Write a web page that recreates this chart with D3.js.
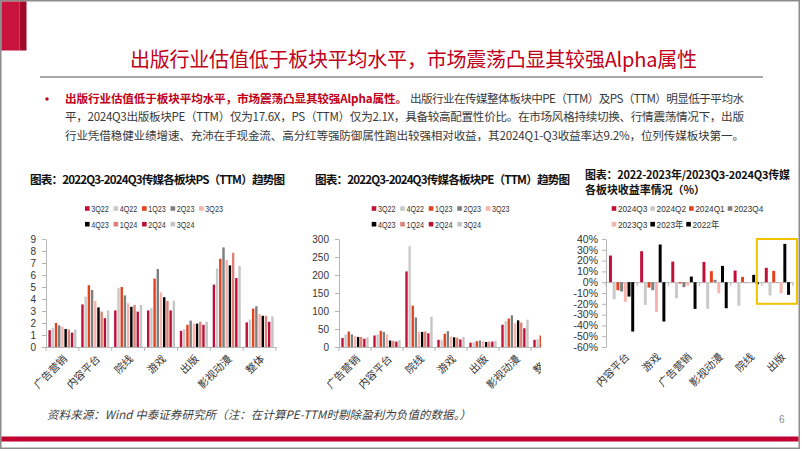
<!DOCTYPE html>
<html><head><meta charset="utf-8">
<script src="https://cdn.jsdelivr.net/npm/d3@7"></script>
<style>
html,body{margin:0;padding:0;background:#fff;}
svg{display:block;}
</style></head><body>
<svg id="c" width="802" height="451"></svg>
<script>
// ---------------- DATA ----------------
const sectorsA = ["广告营销","内容平台","院线","游戏","出版","影视动漫","整体"];
const quarters = ["3Q22","4Q22","1Q23","2Q23","3Q23","4Q23","1Q24","2Q24","3Q24"];
const psTicks = [0,1,2,3,4,5,6,7,8,9];
const peTicks = [0,50,100,150,200,250,300];

// PS (TTM) per sector, in quarter order
const psAdMarketing = [1.4,1.6,2.0,1.8,1.7,1.5,1.45,1.2,1.45];
const psContent     = [3.55,4.2,5.15,4.75,3.85,3.3,2.95,2.4,3.05];
const psCinema      = [3.05,4.9,5.0,4.3,3.65,3.35,3.5,2.95,3.5];
const psGames       = [3.05,3.25,5.7,6.5,4.55,4.15,3.85,3.05,3.85];
const psPublishing  = [1.35,1.5,1.85,2.2,1.95,1.95,2.1,1.85,2.1];
const psFilmAnim    = [5.2,6.55,7.35,8.3,7.25,6.8,7.85,5.75,6.75];
const psOverall     = [2.05,2.3,3.2,3.4,2.75,2.6,2.6,2.1,2.55];

// PE (TTM) per sector, in quarter order
const peAdMarketing = [25,35,43,35,30,28,28,23,27];
const peContent     = [32,35,45,42,35,18,17,15,19];
const peCinema      = [210,280,115,82,42,42,43,38,84];
const peGames       = [20,20,37,44,29,27,26,21,28];
const pePublishing  = [12,13,16,18,16,14,15,15,17];
const peFilmAnim    = [62,72,79,88,66,74,68,52,76];
const peOverall     = [20,22,32,35,28,26,25,20,27];

// Returns (%)
const sectorsB = ["内容平台","游戏","广告营销","影视动漫","院线","出版"];
const periods = ["2024Q3","2024Q2","2024Q1","2023Q4","2023Q3","2023年","2022年"];
const retTicks = [40,30,20,10,0,-10,-20,-30,-40,-50,-60];
const retContent    = [24.7,-15.7,-7.4,-8.6,-18.2,-13.3,-45.7];
const retGames      = [28.7,-21,-5,-7.4,-27.5,34.9,-36.4];
const retAdMarketing= [19.1,-14.8,-1.2,-4.6,-3.1,5.2,-24.7];
const retFilmAnim   = [18.8,-24.7,10.2,2.2,-10.2,15.1,-24.1];
const retCinema     = [10.8,-21.9,4.9,-0.4,-0.3,6.8,-1.9];
const retPublishing = [13.3,-12.3,10.5,-0.3,-10.2,35.5,-11.7];

// ---------------- STYLE ----------------
const quarterColors = ["#C0103A","#C9C9C9","#E2421E","#7F7F7F","#F5B5AC","#000000","#DE8279","#B8123A","#C4C4C4"];
const periodColors  = ["#C0103A","#C9C9C9","#E2421E","#7F7F7F","#F5B5AC","#000000","#000000"];
const fontLatin = '"Liberation Sans","Noto Sans CJK SC",sans-serif';
const fontCJK = '"Noto Sans CJK SC","Noto Sans",sans-serif';

const svg = d3.select("#c");

function addText(parent, x, y, str, o) {
  const t = parent.append("text").attr("x", x).attr("y", y).text(str)
    .attr("font-size", o.size).attr("fill", o.fill || "#000")
    .attr("font-family", o.family || fontCJK);
  if (o.weight) t.attr("font-weight", o.weight);
  if (o.style) t.attr("font-style", o.style);
  if (o.anchor) t.attr("text-anchor", o.anchor);
  if (o.len) t.attr("textLength", o.len).attr("lengthAdjust", o.adjust || "spacing");
  return t;
}

// ---------------- SLIDE FRAME ----------------
svg.append("rect").attr("x",0.75).attr("y",0.75).attr("width",798.5).attr("height",447.5)
  .attr("fill","#fff").attr("stroke","#8c8c8c").attr("stroke-width",1.5);
svg.append("rect").attr("x",1.5).attr("y",1.5).attr("width",18).attr("height",49).attr("fill","#C8143C");
svg.append("rect").attr("x",19.5).attr("y",1.5).attr("width",7).attr("height",49).attr("fill","#A00A28");

addText(svg, 130, 67, "出版行业估值低于板块平均水平，市场震荡凸显其较强Alpha属性", {size:20, fill:"#C00018", len:567});
svg.append("line").attr("x1",40).attr("x2",763).attr("y1",77).attr("y2",77).attr("stroke","#A6A6A6").attr("stroke-width",2);

// paragraph
svg.append("circle").attr("cx",47).attr("cy",99).attr("r",1.7).attr("fill","#C00018");
addText(svg, 65, 103, "出版行业估值低于板块平均水平，市场震荡凸显其较强Alpha属性。", {size:11.6, fill:"#C00018", weight:700, len:342});
addText(svg, 410, 103, "出版行业在传媒整体板块中PE（TTM）及PS（TTM）明显低于平均水", {size:11.6, fill:"#3a3a3a", len:334});
addText(svg, 65, 121, "平，2024Q3出版板块PE（TTM）仅为17.6X，PS（TTM）仅为2.1X，具备较高配置性价比。在市场风格持续切换、行情震荡情况下，出版", {size:11.6, fill:"#3a3a3a", len:679});
addText(svg, 65, 140, "行业凭借稳健业绩增速、充沛在手现金流、高分红等强防御属性跑出较强相对收益，其2024Q1-Q3收益率达9.2%，位列传媒板块第一。", {size:11.6, fill:"#3a3a3a", len:679});

// chart titles
addText(svg, 30, 184, "图表：2022Q3-2024Q3传媒各板块PS（TTM）趋势图", {size:11.6, weight:700, fill:"#111", len:255});
addText(svg, 315, 184, "图表：2022Q3-2024Q3传媒各板块PE（TTM）趋势图", {size:11.6, weight:700, fill:"#111", len:255});
addText(svg, 585, 179, "图表：2022-2023年/2023Q3-2024Q3传媒", {size:11, weight:700, fill:"#111", len:205});
addText(svg, 585, 194, "各板块收益率情况（%）", {size:11, weight:700, fill:"#111", len:120});

// footer
addText(svg, 47, 419, "资料来源：Wind 中泰证券研究所（注：在计算PE-TTM时剔除盈利为负值的数据。）", {size:11.5, fill:"#404040", style:"italic", len:424});
addText(svg, 779, 423, "6", {size:10, fill:"#8a8a8a", family:fontLatin});
svg.append("rect").attr("x",1.5).attr("y",436.5).attr("width",797).attr("height",5).attr("fill","#C00030");

// ---------------- LEGEND ----------------
function legend(x, rows, names, colors, factor, gap) {
  const g = svg.append("g");
  let idx = 0;
  rows.forEach(r => {
    let cx = x;
    for (let k = 0; k < r.n; k++, idx++) {
      g.append("rect").attr("x", cx).attr("y", r.y - 2.3).attr("width", 4.6).attr("height", 4.6).attr("fill", colors[idx]);
      const t = addText(g, cx + 6.2, r.y + 3.3, names[idx], {size:9, fill:"#333", family:fontLatin});
      const w = t.node().getComputedTextLength() * factor;
      t.attr("textLength", w).attr("lengthAdjust", "spacingAndGlyphs");
      cx += 6.2 + w + gap;
    }
  });
}
legend(85, [{y:208.5,n:5},{y:224.2,n:4}], quarters, quarterColors, 0.8, 4.7);
legend(371.7, [{y:208.5,n:5},{y:224.2,n:4}], quarters, quarterColors, 0.8, 4.7);
legend(611.7, [{y:208.5,n:4},{y:224.2,n:3}], periods, periodColors, 0.92, 3);

// ---------------- BAR CHARTS ----------------
function barChart(cfg) {
  const g = svg.append("g");
  if (cfg.clipX != null) {
    const id = "clip" + Math.round(cfg.x0);
    svg.append("defs").append("clipPath").attr("id", id)
      .append("rect").attr("x", 0).attr("y", 0).attr("width", cfg.clipX).attr("height", 451);
    g.attr("clip-path", `url(#${id})`);
  }
  const x0 = d3.scaleBand().domain(cfg.categories).range([cfg.x0, cfg.x1]);
  const x1 = d3.scaleBand().domain(cfg.series).range([0, x0.bandwidth()])
    .paddingInner(cfg.pi).paddingOuter(cfg.po);
  const y = d3.scaleLinear().domain(cfg.domain).range([cfg.yBottom, cfg.yTop]);
  const yZero = y(0);

  // y axis
  const ya = g.append("g").attr("transform", `translate(${cfg.x0},0)`)
    .call(d3.axisLeft(y).tickValues(cfg.ticks).tickSize(4).tickSizeOuter(0).tickPadding(cfg.tickPad).tickFormat(cfg.fmt));
  ya.select(".domain").attr("stroke", "#B5B5B5");
  ya.selectAll(".tick line").attr("stroke", "#B5B5B5");
  ya.selectAll(".tick text").attr("font-family", fontLatin).attr("font-size", cfg.tickSize).attr("fill", "#333");

  // x axis line at zero with boundary ticks
  const xa = g.append("g").attr("transform", `translate(0,${yZero})`)
    .call(d3.axisBottom(x0).tickSize(0).tickFormat(""));
  xa.select(".domain").attr("stroke", "#B5B5B5");
  d3.range(cfg.categories.length + 1).forEach(i => {
    const bx = cfg.x0 + i * x0.step();
    g.append("line").attr("x1", bx).attr("x2", bx).attr("y1", yZero).attr("y2", yZero + 4).attr("stroke", "#B5B5B5");
  });

  // bars
  cfg.categories.forEach((c, ci) => {
    cfg.series.forEach((s, si) => {
      const v = cfg.matrix[ci][si];
      g.append("rect")
        .attr("x", x0(c) + x1(s)).attr("width", x1.bandwidth())
        .attr("y", y(Math.max(0, v))).attr("height", Math.abs(y(v) - yZero))
        .attr("fill", cfg.colors[si]);
    });
  });

  // category labels
  cfg.categories.forEach(c => {
    const cx = x0(c) + x0.bandwidth() / 2 + cfg.labelDx;
    g.append("text").attr("transform", `translate(${cx},${cfg.yBottom + cfg.labelDy}) rotate(-45)`)
      .attr("text-anchor", "end").attr("dy", "0.35em")
      .attr("font-family", fontCJK).attr("font-size", 10.5).attr("fill", "#333").text(c);
  });
  return {x0, y};
}

barChart({
  categories: sectorsA, series: quarters, colors: quarterColors,
  matrix: [psAdMarketing, psContent, psCinema, psGames, psPublishing, psFilmAnim, psOverall],
  x0: 46, x1: 276, yBottom: 347, yTop: 239, domain: [0, 9], ticks: psTicks,
  fmt: d3.format("d"), tickSize: 10, tickPad: 6, pi: 0.25, po: 0.75, labelDx: 3, labelDy: 10
});

barChart({
  categories: sectorsA, series: quarters, colors: quarterColors,
  matrix: [peAdMarketing, peContent, peCinema, peGames, pePublishing, peFilmAnim, peOverall],
  x0: 339, x1: 563, yBottom: 347, yTop: 239, domain: [0, 300], ticks: peTicks,
  fmt: d3.format("d"), tickSize: 10, tickPad: 6, pi: 0.25, po: 0.75, labelDx: 3, labelDy: 10, clipX: 541
});

const c3 = barChart({
  categories: sectorsB, series: periods, colors: periodColors,
  matrix: [retContent, retGames, retAdMarketing, retFilmAnim, retCinema, retPublishing],
  x0: 606, x1: 793, yBottom: 347, yTop: 239, domain: [-60, 40], ticks: retTicks,
  fmt: d => d + "%", tickSize: 10.5, tickPad: 4, pi: 0.2, po: 0.8, labelDx: 6, labelDy: 8
});

// highlight box around 出版
const hx = c3.x0("出版");
svg.append("rect").attr("x", hx - 5).attr("y", c3.y(40))
  .attr("width", c3.x0.bandwidth() + 9).attr("height", c3.y(-20) - c3.y(40))
  .attr("fill", "none").attr("stroke", "#F2C200").attr("stroke-width", 2);
</script>
</body></html>
